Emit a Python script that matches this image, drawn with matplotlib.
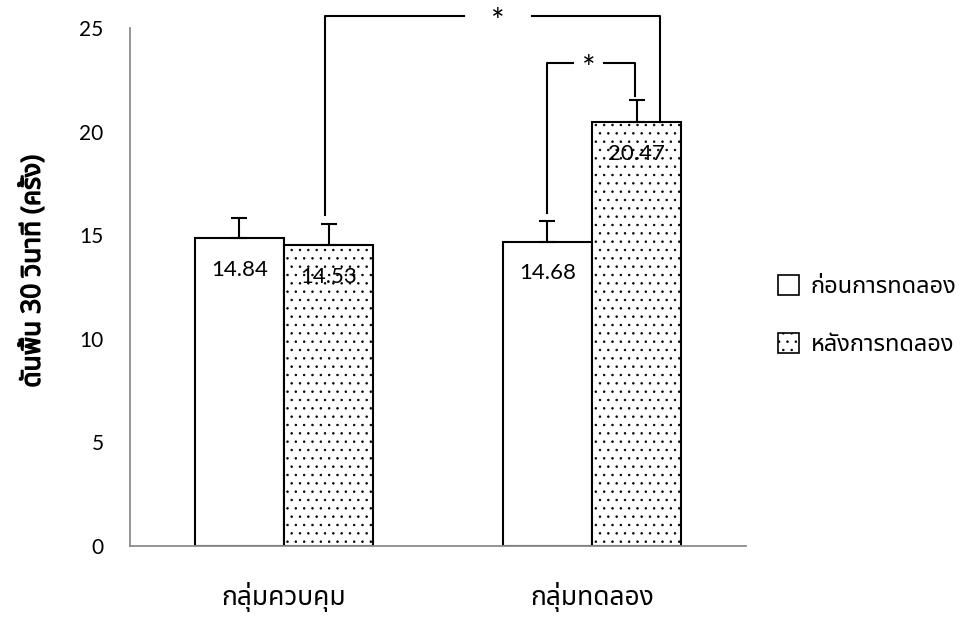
import numpy as np
import matplotlib
matplotlib.use('Agg')
import matplotlib.pyplot as plt
import matplotlib.patheffects as pe
from matplotlib.patches import Patch

groups = ['กลุ่มควบคุม', 'กลุ่มทดลอง']
before = [14.84, 14.68]
after = [14.53, 20.47]
before_sd = [1.0, 1.0]
after_sd = [1.0, 1.05]
series_names = ['ก่อนการทดลอง', 'หลังการทดลอง']
ylabel = 'ดันพื้น 30 วินาที (ครั้ง)'

THAI = ['Noto Sans Thai', 'DejaVu Sans']
NUM = ['Lato', 'DejaVu Sans']

plt.rcParams['hatch.linewidth'] = 0.55
plt.rcParams['hatch.color'] = '#444444'

fig = plt.figure(figsize=(9.7, 6.21), dpi=100)
ax = fig.add_axes([0.134, 0.121, 0.635, 0.834])

x = np.arange(len(groups))
w = 0.29
ekw = dict(ecolor='black', elinewidth=1.5, capsize=6, capthick=1.5)
# only the upper half of each error bar is shown
ax.bar(x - w / 2, before, w, color='white', edgecolor='black', linewidth=1.5,
       yerr=[np.zeros(len(before_sd)), before_sd], error_kw=ekw, zorder=2)
ax.bar(x + w / 2, after, w, color='white', edgecolor='black', linewidth=1.5, hatch='..',
       yerr=[np.zeros(len(after_sd)), after_sd], error_kw=ekw, zorder=2)

# value labels inside the top of each bar
for xs, vals in ((x - w / 2, before), (x + w / 2, after)):
    for xi, v in zip(xs, vals):
        ax.text(xi, v - 1.05, f'{v:.2f}', ha='center', va='top', fontsize=16, family=NUM, zorder=3)

ax.set_xlim(-0.5, 1.5)
ax.set_ylim(0, 25)
ax.set_yticks(np.arange(0, 26, 5))
ax.set_xticks(x)
ax.set_xticklabels(groups, family=THAI, fontsize=19)
for t in ax.get_yticklabels():
    t.set_family(NUM)
    t.set_fontsize(15)
ax.tick_params(axis='both', length=0)
ax.tick_params(axis='x', pad=26)
ax.tick_params(axis='y', pad=19)
for s in ('top', 'right'):
    ax.spines[s].set_visible(False)
for s in ('left', 'bottom'):
    ax.spines[s].set_color('#8c8c8c')
    ax.spines[s].set_linewidth(1.3)
yl = ax.set_ylabel(ylabel, family=THAI, fontsize=19, fontweight='bold')
yl.set_path_effects([pe.withStroke(linewidth=0.9, foreground='black')])
ax.yaxis.set_label_coords(-0.135, 0.53)


def bracket(x0, x1, y0, y1, ytop, gap_mid, gap_half):
    kw = dict(color='black', lw=1.5, clip_on=False, zorder=3)
    ax.plot([x0, x0, gap_mid - gap_half], [y0, ytop, ytop], **kw)
    ax.plot([gap_mid + gap_half, x1, x1], [ytop, ytop, y1], **kw)
    ax.text(gap_mid, ytop - 0.35, '*', ha='center', va='center', fontsize=23, family=NUM, zorder=3)


# control after vs experimental after
bracket(x[0] + w / 2 - 0.012, x[1] + w / 2 + 0.077, after[0] + after_sd[0] + 0.45, after[1],
        25.6, 0.695, 0.11)
# experimental before vs after
bracket(x[1] - w / 2, x[1] + w / 2 - 0.006, before[1] + before_sd[1] + 0.4, after[1] + after_sd[1] + 0.2,
        23.3, 0.99, 0.05)

handles = [Patch(facecolor='white', edgecolor='black', linewidth=1.2),
           Patch(facecolor='white', edgecolor='black', linewidth=1.2, hatch='..')]
fig.legend(handles, series_names, loc='center left', bbox_to_anchor=(0.78, 0.491),
           frameon=False, prop={'family': THAI, 'size': 17}, labelspacing=1.45,
           handlelength=0.9, handleheight=0.9, handletextpad=0.5)

fig.savefig('out.png')
